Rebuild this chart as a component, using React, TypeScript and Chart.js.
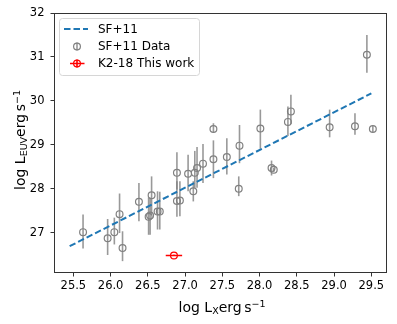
import React, { useEffect, useRef } from "react";
import { Chart, registerables } from "chart.js";

Chart.register(...registerables);

// ---- data ----
const FIT_X = [25.45, 29.5];
const FIT_Y = [26.69, 30.17];

const DATA_X = [25.63, 25.96, 26.05, 26.12, 26.16, 26.38, 26.51, 26.53, 26.55, 26.63, 26.66, 26.89, 26.89, 26.93, 27.04, 27.11, 27.13, 27.16, 27.24, 27.38, 27.38, 27.56, 27.72, 27.73, 28.01, 28.16, 28.19, 28.38, 28.42, 28.94, 29.28, 29.44, 29.52];
const DATA_Y = [27.01, 26.87, 27.01, 27.42, 26.65, 27.7, 27.36, 27.39, 27.85, 27.48, 27.48, 28.36, 27.72, 27.73, 28.34, 27.94, 28.36, 28.47, 28.57, 29.36, 28.67, 28.72, 28.0, 28.98, 29.37, 28.47, 28.43, 29.52, 29.76, 29.4, 29.42, 31.05, 29.36];
const ERR_HIGH = [0.4, 0.44, 0.33, 0.47, 0.38, 0.43, 0.44, 0.41, 0.43, 0.46, 0.45, 0.47, 0.45, 0.44, 0.43, 0.23, 0.5, 0.48, 0.45, 0.13, 0.43, 0.43, 0.28, 0.47, 0.43, 0.17, 0.05, 0.35, 0.38, 0.4, 0.3, 0.45, 0.07];
const ERR_LOW = [0.37, 0.38, 0.28, 0.43, 0.3, 0.44, 0.41, 0.44, 0.45, 0.41, 0.41, 0.38, 0.36, 0.36, 0.4, 0.23, 0.34, 0.45, 0.44, 0.09, 0.43, 0.4, 0.17, 0.4, 0.46, 0.17, 0.05, 0.32, 0.29, 0.23, 0.19, 0.41, 0.07];

const K2_X = [26.85];
const K2_Y = [26.48];
const K2_XERR = [0.11];
const K2_YERR = [0.02];

const X_TICKS = [25.5, 26.0, 26.5, 27.0, 27.5, 28.0, 28.5, 29.0, 29.5];
const Y_TICKS = [27, 28, 29, 30, 31, 32];
const X_RANGE = [25.24, 29.71];
const Y_RANGE = [26.08, 32];

const LEGEND_LABELS = ["SF+11", "SF+11 Data", "K2-18 This work"];

const FONT = "'DejaVu Sans', sans-serif";
const GRAY = "rgba(128,128,128,1)";
const GRAY_BAR = "rgba(128,128,128,0.8)";
const BLUE = "#1f77b4";
const RED = "#ff0000";

type Part = { t: string; s: number; dy?: number; gap?: number };

function measureParts(ctx: CanvasRenderingContext2D, parts: Part[]) {
  let w = 0;
  for (const p of parts) {
    ctx.font = `${p.s}px ${FONT}`;
    w += ctx.measureText(p.t).width + (p.gap || 0);
  }
  return w;
}

function drawParts(ctx: CanvasRenderingContext2D, parts: Part[], x: number, y: number) {
  let cx = x;
  for (const p of parts) {
    cx += p.gap || 0;
    ctx.font = `${p.s}px ${FONT}`;
    ctx.fillText(p.t, cx, y + (p.dy || 0));
    cx += ctx.measureText(p.t).width;
  }
}

const errorBarPlugin = {
  id: "errorBars",
  beforeDatasetsDraw(chart: any) {
    const ctx = chart.ctx as CanvasRenderingContext2D;
    const xs = chart.scales.x;
    const ys = chart.scales.y;
    ctx.save();
    ctx.strokeStyle = GRAY_BAR;
    ctx.lineWidth = 1.6;
    DATA_X.forEach((x, i) => {
      const px = xs.getPixelForValue(x);
      ctx.beginPath();
      ctx.moveTo(px, ys.getPixelForValue(DATA_Y[i] - ERR_LOW[i]));
      ctx.lineTo(px, ys.getPixelForValue(DATA_Y[i] + ERR_HIGH[i]));
      ctx.stroke();
    });
    ctx.strokeStyle = RED;
    K2_X.forEach((x, i) => {
      const py = ys.getPixelForValue(K2_Y[i]);
      const px = xs.getPixelForValue(x);
      ctx.beginPath();
      ctx.moveTo(xs.getPixelForValue(x - K2_XERR[i]), py);
      ctx.lineTo(xs.getPixelForValue(x + K2_XERR[i]), py);
      ctx.moveTo(px, ys.getPixelForValue(K2_Y[i] - K2_YERR[i]));
      ctx.lineTo(px, ys.getPixelForValue(K2_Y[i] + K2_YERR[i]));
      ctx.stroke();
    });
    ctx.restore();
  },
};

const decorPlugin = {
  id: "decor",
  afterDraw(chart: any) {
    const ctx = chart.ctx as CanvasRenderingContext2D;
    const a = chart.chartArea;
    ctx.save();
    // frame
    ctx.strokeStyle = "#333";
    ctx.lineWidth = 1;
    ctx.strokeRect(Math.round(a.left) + 0.5, Math.round(a.top) + 0.5, Math.round(a.right - a.left) - 1, Math.round(a.bottom - a.top) - 1);

    // axis titles
    ctx.fillStyle = "#000";
    ctx.textBaseline = "alphabetic";
    ctx.textAlign = "left";
    const xParts: Part[] = [
      { t: "log L", s: 14 },
      { t: "X", s: 9.5, dy: 2 },
      { t: "erg", s: 14 },
      { t: "s", s: 14, gap: 2.5 },
      { t: "\u22121", s: 9.5, dy: -5 },
    ];
    const xw = measureParts(ctx, xParts);
    drawParts(ctx, xParts, 222 - xw / 2, 311.5);

    const yParts: Part[] = [
      { t: "log L", s: 14 },
      { t: "EUV", s: 9.5, dy: 2 },
      { t: "erg", s: 14 },
      { t: "s", s: 14, gap: 2.5 },
      { t: "\u22121", s: 9.5, dy: -5 },
    ];
    const yw = measureParts(ctx, yParts);
    ctx.save();
    ctx.translate(24.5, 140);
    ctx.rotate(-Math.PI / 2);
    drawParts(ctx, yParts, -yw / 2, 0);
    ctx.restore();

    // legend
    const lx = 59.5, ly = 18.5, lw = 140, lh = 57, r = 3;
    ctx.beginPath();
    ctx.moveTo(lx + r, ly);
    ctx.lineTo(lx + lw - r, ly);
    ctx.quadraticCurveTo(lx + lw, ly, lx + lw, ly + r);
    ctx.lineTo(lx + lw, ly + lh - r);
    ctx.quadraticCurveTo(lx + lw, ly + lh, lx + lw - r, ly + lh);
    ctx.lineTo(lx + r, ly + lh);
    ctx.quadraticCurveTo(lx, ly + lh, lx, ly + lh - r);
    ctx.lineTo(lx, ly + r);
    ctx.quadraticCurveTo(lx, ly, lx + r, ly);
    ctx.closePath();
    ctx.fillStyle = "rgba(255,255,255,0.8)";
    ctx.fill();
    ctx.strokeStyle = "#d6d6d6";
    ctx.lineWidth = 1;
    ctx.stroke();

    const rows = [29, 46.5, 63.5];
    // handle 1: dashed line
    ctx.strokeStyle = BLUE;
    ctx.lineWidth = 2;
    ctx.setLineDash([6.5, 3]);
    ctx.beginPath();
    ctx.moveTo(64, rows[0]);
    ctx.lineTo(88, rows[0]);
    ctx.stroke();
    ctx.setLineDash([]);
    // handle 2: gray errorbar marker
    ctx.strokeStyle = GRAY_BAR;
    ctx.lineWidth = 1.6;
    ctx.beginPath();
    ctx.moveTo(77, rows[1] - 4);
    ctx.lineTo(77, rows[1] + 4);
    ctx.stroke();
    ctx.strokeStyle = GRAY;
    ctx.lineWidth = 1.2;
    ctx.beginPath();
    ctx.arc(77, rows[1], 3.4, 0, Math.PI * 2);
    ctx.stroke();
    // handle 3: red cross marker
    ctx.strokeStyle = RED;
    ctx.lineWidth = 1.6;
    ctx.beginPath();
    ctx.moveTo(70, rows[2]);
    ctx.lineTo(84.5, rows[2]);
    ctx.moveTo(77, rows[2] - 4);
    ctx.lineTo(77, rows[2] + 4);
    ctx.stroke();
    ctx.lineWidth = 1.2;
    ctx.beginPath();
    ctx.arc(77, rows[2], 3.4, 0, Math.PI * 2);
    ctx.stroke();

    ctx.fillStyle = "#000";
    ctx.font = `12px ${FONT}`;
    ctx.textBaseline = "middle";
    LEGEND_LABELS.forEach((l, i) => ctx.fillText(l, 98, rows[i] + 0.5));
    ctx.restore();
  },
};

export default function App() {
  const ref = useRef<HTMLCanvasElement | null>(null);
  useEffect(() => {
    document.body.style.margin = "0";
    const canvas = ref.current;
    if (!canvas) return;
    const chart = new Chart(canvas, {
      type: "scatter",
      data: {
        datasets: [
          {
            label: LEGEND_LABELS[0],
            data: FIT_X.map((x, i) => ({ x, y: FIT_Y[i] })),
            showLine: true,
            borderColor: BLUE,
            borderWidth: 2,
            borderDash: [6.5, 3],
            pointRadius: 0,
            order: 3,
          } as any,
          {
            label: LEGEND_LABELS[1],
            data: DATA_X.map((x, i) => ({ x, y: DATA_Y[i] })),
            pointStyle: "circle",
            pointRadius: 3.4,
            pointBorderWidth: 1.2,
            borderColor: GRAY,
            backgroundColor: "rgba(0,0,0,0)",
            order: 2,
          },
          {
            label: LEGEND_LABELS[2],
            data: K2_X.map((x, i) => ({ x, y: K2_Y[i] })),
            pointStyle: "circle",
            pointRadius: 3.4,
            pointBorderWidth: 1.2,
            borderColor: RED,
            backgroundColor: "rgba(0,0,0,0)",
            order: 1,
          },
        ],
      },
      options: {
        animation: false,
        responsive: false,
        layout: { padding: { left: 0, right: 10, top: 13, bottom: 0 } },
        plugins: { legend: { display: false }, tooltip: { enabled: false } },
        scales: {
          x: {
            type: "linear",
            min: X_RANGE[0],
            max: X_RANGE[1],
            afterBuildTicks: (s: any) => {
              s.ticks = X_TICKS.map((v) => ({ value: v }));
            },
            afterFit: (s: any) => {
              s.height = 51;
            },
            border: { display: false },
            grid: { display: true, drawOnChartArea: false, drawTicks: true, tickLength: 3.5, color: "#333", tickWidth: 1 },
            ticks: {
              color: "#000",
              font: { family: FONT, size: 11.5 },
              padding: 3,
              maxRotation: 0,
              autoSkip: false,
              callback: (v: any) => Number(v).toFixed(1),
            },
          },
          y: {
            type: "linear",
            min: Y_RANGE[0],
            max: Y_RANGE[1],
            afterBuildTicks: (s: any) => {
              s.ticks = Y_TICKS.map((v) => ({ value: v }));
            },
            afterFit: (s: any) => {
              s.width = 54;
            },
            border: { display: false },
            grid: { display: true, drawOnChartArea: false, drawTicks: true, tickLength: 3.5, color: "#333", tickWidth: 1 },
            ticks: {
              color: "#000",
              font: { family: FONT, size: 11.5 },
              padding: 6,
              autoSkip: false,
              callback: (v: any) => String(Math.round(Number(v))),
            },
          },
        },
      },
      plugins: [errorBarPlugin, decorPlugin],
    });
    return () => chart.destroy();
  }, []);
  return (
    <div style={{ position: "absolute", left: 0, top: 0, width: 397, height: 324 }}>
      <canvas ref={ref} width={397} height={324} style={{ display: "block" }} />
    </div>
  );
}
